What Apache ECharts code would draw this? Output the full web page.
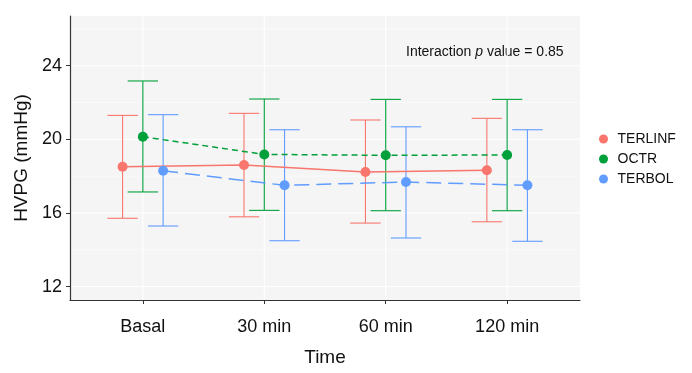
<!DOCTYPE html>
<html>
<head>
<meta charset="utf-8">
<script src="https://cdn.jsdelivr.net/npm/echarts@6/dist/echarts.min.js"></script>
<style>
html,body{margin:0;padding:0;background:#fff;}
#chart{width:692px;height:373px;}
</style>
</head>
<body>
<div id="chart"></div>
<script>
// data
var timeLabels = ['Basal', '30 min', '60 min', '120 min'];
var groupNames = ['TERLINF', 'OCTR', 'TERBOL'];
var groupColors = ['#F8766D', '#00A03A', '#619CFF'];

var terlinfMean = [18.51, 18.60, 18.22, 18.32];
var terlinfLow  = [15.71, 15.79, 15.45, 15.52];
var terlinfHigh = [21.30, 21.41, 21.05, 21.14];

var octrMean = [20.14, 19.18, 19.13, 19.15];
var octrLow  = [17.14, 16.14, 16.12, 16.12];
var octrHigh = [23.17, 22.19, 22.17, 22.17];

var terbolMean = [18.29, 17.50, 17.68, 17.50];
var terbolLow  = [15.29, 14.49, 14.64, 14.46];
var terbolHigh = [21.34, 20.52, 20.68, 20.52];

var yMajorTicks = [12, 16, 20, 24];
var yMinorTicks = [14, 18, 22, 26];
var xTicks = [1, 2, 3, 4];

var dodge = [-0.167, 0, 0.167];   // position_dodge(0.5)
var capHalf = 0.125;
var dashes = ['solid', [6, 4], [15, 7]];

var means = [terlinfMean, octrMean, terbolMean];
var lows = [terlinfLow, octrLow, terbolLow];
var highs = [terlinfHigh, octrHigh, terbolHigh];

var xMin = 0.4, xMax = 4.6, yMin = 11.27, yMax = 26.7;

var chart = echarts.init(document.getElementById('chart'));

var series = [];

// white grid lines on the grey panel (ggplot look)
var gridData = [];
yMajorTicks.forEach(function(v){ gridData.push([0, v, 1.1]); });
yMinorTicks.forEach(function(v){ gridData.push([0, v, 0.55]); });
xTicks.forEach(function(v){ gridData.push([1, v, 1.1]); });
series.push({
    type: 'custom',
    silent: true,
    z: 0,
    data: gridData,
    renderItem: function(params, api){
        var cs = params.coordSys;
        var isX = api.value(0) === 1;
        var v = api.value(1);
        var shape;
        if (isX) {
            var px = api.coord([v, yMin])[0];
            shape = {x1: px, y1: cs.y, x2: px, y2: cs.y + cs.height};
        } else {
            var py = api.coord([xMin, v])[1];
            shape = {x1: cs.x, y1: py, x2: cs.x + cs.width, y2: py};
        }
        return {type: 'line', shape: shape, style: {stroke: '#ffffff', lineWidth: api.value(2)}};
    }
});

groupNames.forEach(function(name, g){
    var ebData = [];
    var ptData = [];
    for (var i = 0; i < timeLabels.length; i++) {
        var x = xTicks[i] + dodge[g];
        ebData.push([x, lows[g][i], highs[g][i]]);
        ptData.push([x, means[g][i]]);
    }
    // error bars
    series.push({
        type: 'custom',
        z: 2,
        silent: true,
        data: ebData,
        renderItem: function(params, api){
            var x = api.value(0);
            var lo = api.coord([x, api.value(1)]);
            var hi = api.coord([x, api.value(2)]);
            var l = api.coord([x - capHalf, api.value(2)])[0];
            var r = api.coord([x + capHalf, api.value(2)])[0];
            var st = {stroke: groupColors[g], lineWidth: 1.1};
            return {
                type: 'group',
                children: [
                    {type: 'line', shape: {x1: lo[0], y1: lo[1], x2: hi[0], y2: hi[1]}, style: st},
                    {type: 'line', shape: {x1: l, y1: hi[1], x2: r, y2: hi[1]}, style: st},
                    {type: 'line', shape: {x1: l, y1: lo[1], x2: r, y2: lo[1]}, style: st}
                ]
            };
        }
    });
    // mean line + points
    series.push({
        type: 'line',
        name: name,
        z: 3,
        data: ptData,
        symbol: 'circle',
        symbolSize: 10,
        showSymbol: true,
        itemStyle: {color: groupColors[g]},
        lineStyle: {color: groupColors[g], width: 1.5, type: dashes[g]},
        emphasis: {disabled: true}
    });
});

var option = {
    animation: false,
    backgroundColor: '#ffffff',
    textStyle: {fontFamily: 'Liberation Sans, Arial, sans-serif'},
    grid: {
        left: 70, right: 112, top: 16, bottom: 73,
        show: true, backgroundColor: '#F5F5F5', borderWidth: 0
    },
    legend: {
        orient: 'vertical',
        left: 594, top: 127,
        icon: 'circle',
        itemWidth: 18, itemHeight: 9, itemGap: 6,
        data: groupNames,
        textStyle: {fontSize: 14, color: '#111'}
    },
    xAxis: {
        type: 'value',
        min: xMin, max: xMax,
        name: 'Time',
        nameLocation: 'middle',
        nameGap: 48,
        nameTextStyle: {fontSize: 19, color: '#111'},
        axisLine: {show: true, onZero: false, lineStyle: {color: '#333', width: 1.2}},
        axisTick: {show: true, length: 4, customValues: xTicks, lineStyle: {color: '#333'}},
        axisLabel: {
            customValues: xTicks,
            margin: 18,
            fontSize: 18,
            color: '#111',
            formatter: function(v){ return timeLabels[Math.round(v) - 1] || ''; }
        },
        splitLine: {show: false}
    },
    yAxis: {
        type: 'value',
        min: yMin, max: yMax,
        name: 'HVPG (mmHg)',
        nameLocation: 'middle',
        nameGap: 36,
        nameRotate: 90,
        nameTextStyle: {fontSize: 19, color: '#111'},
        axisLine: {show: true, onZero: false, lineStyle: {color: '#333', width: 1.2}},
        axisTick: {show: true, length: 4, customValues: yMajorTicks, lineStyle: {color: '#333'}},
        axisLabel: {customValues: yMajorTicks, margin: 8, fontSize: 18, color: '#111'},
        splitLine: {show: false}
    },
    graphic: [{
        type: 'text',
        left: 406, top: 45,
        style: {
            text: 'Interaction {i|p} value = 0.85',
            font: '14px "Liberation Sans", Arial, sans-serif',
            fill: '#111',
            rich: {i: {fontStyle: 'italic', fontSize: 14, fill: '#111'}}
        }
    }],
    series: series
};

chart.setOption(option);
</script>
</body>
</html>
